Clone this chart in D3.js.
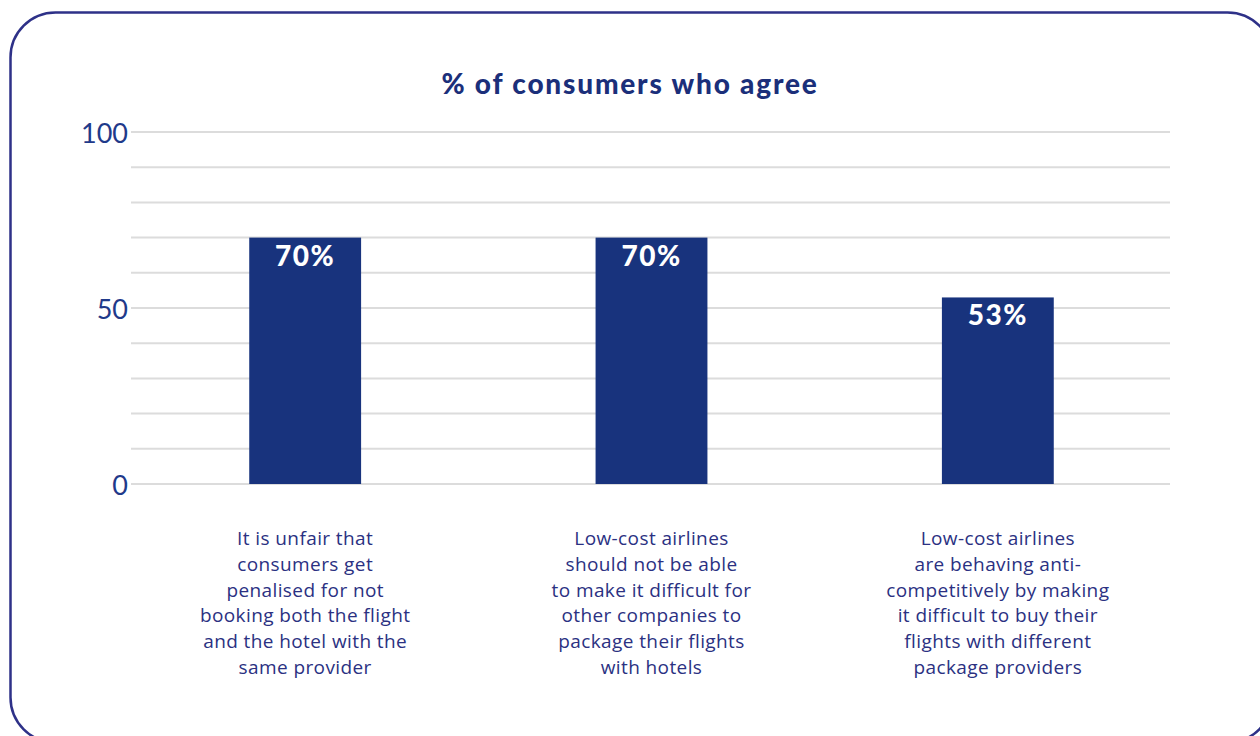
<!DOCTYPE html>
<html>
<head>
<meta charset="utf-8">
<script src="https://cdn.jsdelivr.net/npm/d3@7"></script>
<style>
  html, body { margin: 0; padding: 0; background: #ffffff; }
  svg { display: block; }
</style>
</head>
<body>
<svg id="chart" width="1260" height="736"></svg>
<script>
// Survey statements and share of consumers agreeing
const categories = [
  ["It is unfair that", "consumers get", "penalised for not", "booking both the flight", "and the hotel with the", "same provider"],
  ["Low-cost airlines", "should not be able", "to make it difficult for", "other companies to", "package their flights", "with hotels"],
  ["Low-cost airlines", "are behaving anti-", "competitively by making", "it difficult to buy their", "flights with different", "package providers"]
];
const values = [70, 70, 53];
const yTicks = [0, 50, 100];
const gridTicks = [0, 10, 20, 30, 40, 50, 60, 70, 80, 90, 100];
const title = "% of consumers who agree";

const navy = "#18337d";
const textNavy = "#2b3182";
const svg = d3.select("#chart");

// Rounded frame around the card
svg.append("rect")
  .attr("x", 10.5).attr("y", 12.5)
  .attr("width", 1262).attr("height", 730)
  .attr("rx", 45).attr("ry", 45)
  .attr("fill", "none")
  .attr("stroke", "#2e3188")
  .attr("stroke-width", 2.5);

const x = d3.scaleBand()
  .domain(d3.range(values.length))
  .range([132, 1171])
  .paddingInner(0.677)
  .paddingOuter(0.3385);

const y = d3.scaleLinear().domain([0, 100]).range([484, 132]);

// Horizontal gridlines
svg.append("g").selectAll("line")
  .data(gridTicks)
  .join("line")
  .attr("x1", 131).attr("x2", 1170)
  .attr("y1", d => y(d)).attr("y2", d => y(d))
  .attr("stroke", "#dcdcdc")
  .attr("stroke-width", 2);

// Y axis labels
const yAxis = d3.axisLeft(y).tickValues(yTicks).tickSize(0).tickPadding(0);
const yg = svg.append("g").attr("transform", "translate(128,2)").call(yAxis);
yg.select(".domain").remove();
yg.selectAll("text")
  .attr("font-family", "Lato, 'Open Sans', sans-serif")
  .attr("font-size", 27)
  .attr("font-weight", 400)
  .attr("fill", "#1f3a8a");

// Bars
svg.append("g").selectAll("rect")
  .data(values)
  .join("rect")
  .attr("x", (d, i) => x(i))
  .attr("width", x.bandwidth())
  .attr("y", d => y(d))
  .attr("height", d => y(0) - y(d))
  .attr("fill", navy);

// Value labels inside bars
svg.append("g").selectAll("text")
  .data(values)
  .join("text")
  .attr("x", (d, i) => x(i) + x.bandwidth() / 2)
  .attr("y", d => y(d) + 28)
  .attr("text-anchor", "middle")
  .attr("font-family", "Lato, sans-serif")
  .attr("font-weight", 900)
  .attr("font-size", 28)
  .attr("letter-spacing", 1.5)
  .attr("fill", "#ffffff")
  .text(d => d + "%");

// Category labels under each bar
const catG = svg.append("g");
categories.forEach((lines, i) => {
  const t = catG.append("text")
    .attr("x", x(i) + x.bandwidth() / 2)
    .attr("y", 545)
    .attr("text-anchor", "middle")
    .attr("font-family", "'Open Sans', sans-serif")
    .attr("font-size", 19)
    .attr("letter-spacing", 0.4)
    .attr("fill", textNavy);
  lines.forEach((ln, j) => {
    t.append("tspan")
      .attr("x", x(i) + x.bandwidth() / 2)
      .attr("y", 545 + j * 25.8)
      .text(ln);
  });
});

// Title
svg.append("text")
  .attr("x", 630)
  .attr("y", 94)
  .attr("text-anchor", "middle")
  .attr("font-family", "Lato, sans-serif")
  .attr("font-weight", 900)
  .attr("font-size", 28)
  .attr("letter-spacing", 1.8)
  .attr("fill", "#1b2f7a")
  .text(title);
</script>
</body>
</html>
